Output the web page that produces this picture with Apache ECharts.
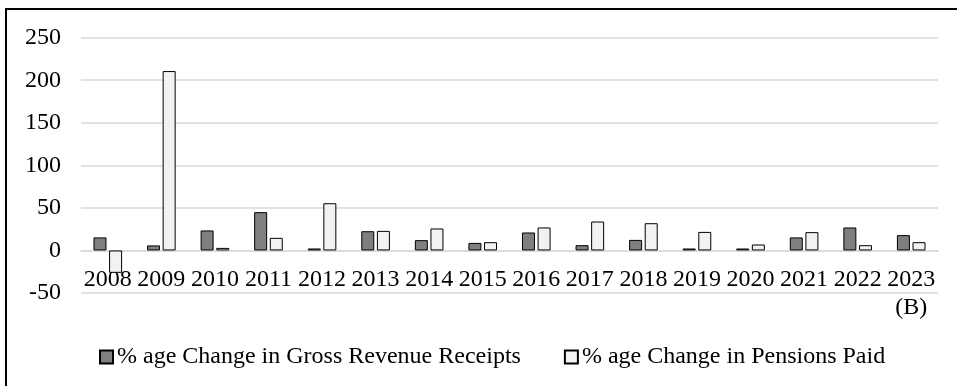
<!DOCTYPE html>
<html>
<head>
<meta charset="utf-8">
<script src="https://cdn.jsdelivr.net/npm/echarts@6/dist/echarts.min.js"></script>
<style>
  html, body { margin: 0; padding: 0; background: #fff; }
  #chart { width: 957px; height: 386px; }
</style>
</head>
<body>
<div id="chart"></div>
<script>
// Year categories (last year is a budget estimate, marked (B))
const years = ['2008', '2009', '2010', '2011', '2012', '2013', '2014', '2015',
               '2016', '2017', '2018', '2019', '2020', '2021', '2022', '2023\n(B)'];

// Year-on-year % change in gross revenue receipts
const grossRevenueChange = [15.3, 5.9, 23.5, 45, 2.3, 22.6, 12.1, 8.9,
                            21.1, 6.2, 12.4, 2.3, 2.3, 15.3, 27, 18];

// Year-on-year % change in pensions paid
const pensionsChange = [-26.3, 210.8, 3, 14.8, 55.5, 23, 25.8, 9.7,
                        27, 34, 32, 21.8, 7, 21.5, 6.2, 9.7];

// Value axis ticks
const yMin = -50, yMax = 250, yStep = 50;

const serif = "'Liberation Serif', 'Times New Roman', serif";

const chart = echarts.init(document.getElementById('chart'), null, { renderer: 'canvas' });

chart.setOption({
  animation: false,
  backgroundColor: '#ffffff',
  textStyle: { fontFamily: serif, color: '#000' },
  graphic: [{
    type: 'rect',
    shape: { x: 6, y: 9, width: 1200, height: 800 },
    style: { fill: 'none', stroke: '#000', lineWidth: 2 },
    silent: true,
    z: 100
  }],
  grid: { left: 81, right: 19, top: 37.7, bottom: 93, containLabel: false },
  legend: {
    left: 99,
    top: 345,
    padding: 0,
    itemWidth: 13,
    itemHeight: 13,
    itemGap: 43,
    icon: 'rect',
    textStyle: { fontFamily: serif, fontSize: 24, color: '#000', padding: [0, 0, 0, -1] },
    data: ['% age Change in Gross Revenue Receipts', '% age Change in Pensions Paid']
  },
  xAxis: {
    type: 'category',
    data: years,
    axisLine: { onZero: true, lineStyle: { color: '#d9d9d9', width: 1.5 } },
    axisTick: { show: false },
    axisLabel: {
      interval: 0,
      // labels sit just under the zero line rather than at the grid bottom
      margin: -27,
      fontFamily: serif,
      fontSize: 24,
      lineHeight: 28,
      color: '#000'
    }
  },
  yAxis: {
    type: 'value',
    min: yMin,
    max: yMax,
    interval: yStep,
    axisLine: { show: false },
    axisTick: { show: false },
    axisLabel: { margin: 20, fontFamily: serif, fontSize: 24, color: '#000' },
    splitLine: { lineStyle: { color: '#d9d9d9', width: 1.5 } }
  },
  series: [
    {
      name: '% age Change in Gross Revenue Receipts',
      type: 'bar',
      data: grossRevenueChange,
      barWidth: 13,
      barGap: '20%',
      itemStyle: { color: '#7f7f7f', borderColor: '#000', borderWidth: 1 }
    },
    {
      name: '% age Change in Pensions Paid',
      type: 'bar',
      data: pensionsChange,
      barWidth: 13,
      itemStyle: { color: '#f2f2f2', borderColor: '#000', borderWidth: 1 }
    }
  ]
});
</script>
</body>
</html>
